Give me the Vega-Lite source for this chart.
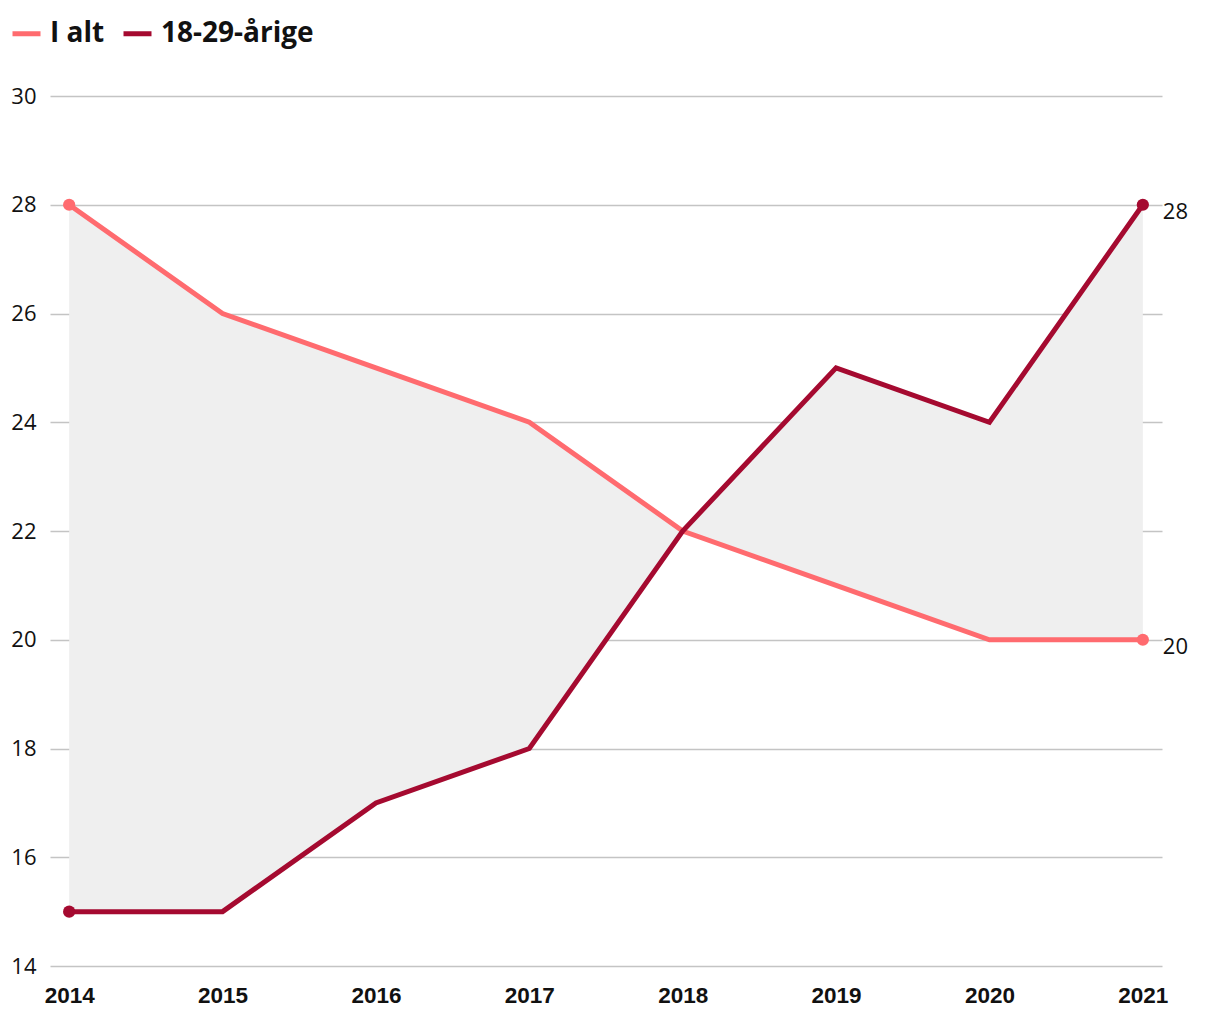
{
  "$schema": "https://vega.github.io/schema/vega-lite/v6.json",
  "width": 1112,
  "height": 870,
  "autosize": "none",
  "padding": {"left": 50, "top": 96, "right": 58, "bottom": 54},
  "background": "white",
  "config": {"view": {"stroke": null}, "font": "Open Sans"},
  "data": {"values": [
    {"year": 2014, "series": "I alt", "value": 28},
    {"year": 2015, "series": "I alt", "value": 26},
    {"year": 2016, "series": "I alt", "value": 25},
    {"year": 2017, "series": "I alt", "value": 24},
    {"year": 2018, "series": "I alt", "value": 22},
    {"year": 2019, "series": "I alt", "value": 21},
    {"year": 2020, "series": "I alt", "value": 20},
    {"year": 2021, "series": "I alt", "value": 20},
    {"year": 2014, "series": "18-29-årige", "value": 15},
    {"year": 2015, "series": "18-29-årige", "value": 15},
    {"year": 2016, "series": "18-29-årige", "value": 17},
    {"year": 2017, "series": "18-29-årige", "value": 18},
    {"year": 2018, "series": "18-29-årige", "value": 22},
    {"year": 2019, "series": "18-29-årige", "value": 25},
    {"year": 2020, "series": "18-29-årige", "value": 24},
    {"year": 2021, "series": "18-29-årige", "value": 28}
  ]},
  "encoding": {
    "x": {
      "field": "year", "type": "ordinal",
      "scale": {"type": "point", "padding": 0.125},
      "axis": {"title": null, "labelAngle": 0, "domain": false, "ticks": false, "grid": false,
               "labelFont": "Liberation Sans", "labelFontWeight": "bold", "labelFontSize": 22.5,
               "labelColor": "#111111", "labelPadding": 18}
    }
  },
  "layer": [
    {
      "transform": [{"pivot": "series", "value": "value", "groupby": ["year"]}],
      "mark": {"type": "area", "color": "#efefef", "opacity": 1},
      "encoding": {
        "y": {"field": "I alt", "type": "quantitative",
              "scale": {"domain": [14, 30], "nice": false, "zero": false},
              "axis": {"title": null, "values": [14, 16, 18, 20, 22, 24, 26, 28, 30], "domain": false, "ticks": false,
                       "grid": true, "gridColor": "#c4c4c4", "gridWidth": 1.3,
                       "labelFont": "Open Sans", "labelFontSize": 22, "labelColor": "#111111", "labelPadding": 14}},
        "y2": {"field": "18-29-årige"}
      }
    },
    {
      "mark": {"type": "line", "strokeWidth": 5, "strokeJoin": "miter"},
      "encoding": {
        "y": {"field": "value", "type": "quantitative"},
        "color": {"field": "series", "type": "nominal",
                  "scale": {"domain": ["I alt", "18-29-årige"], "range": ["#ff6b6f", "#a50a30"]},
                  "legend": {"title": null, "orient": "none", "direction": "horizontal",
                             "legendX": -40, "legendY": -79,
                             "symbolType": "stroke", "symbolStrokeWidth": 5, "symbolSize": 784,
                             "labelFont": "Open Sans", "labelFontWeight": "bold", "labelFontSize": 28,
                             "labelColor": "#111111", "columnPadding": 8, "labelOffset": 7}}
      }
    },
    {
      "transform": [{"filter": {"field": "year", "oneOf": [2014, 2021]}}],
      "mark": {"type": "point", "filled": true, "size": 150, "opacity": 1},
      "encoding": {
        "y": {"field": "value", "type": "quantitative"},
        "color": {"field": "series", "type": "nominal"}
      }
    },
    {
      "transform": [{"filter": {"field": "year", "equal": 2021}}],
      "mark": {"type": "text", "align": "left", "baseline": "middle", "dx": 20, "dy": 7,
               "font": "Open Sans", "fontSize": 22, "color": "#111111"},
      "encoding": {
        "y": {"field": "value", "type": "quantitative"},
        "text": {"field": "value", "type": "quantitative"}
      }
    }
  ]
}
